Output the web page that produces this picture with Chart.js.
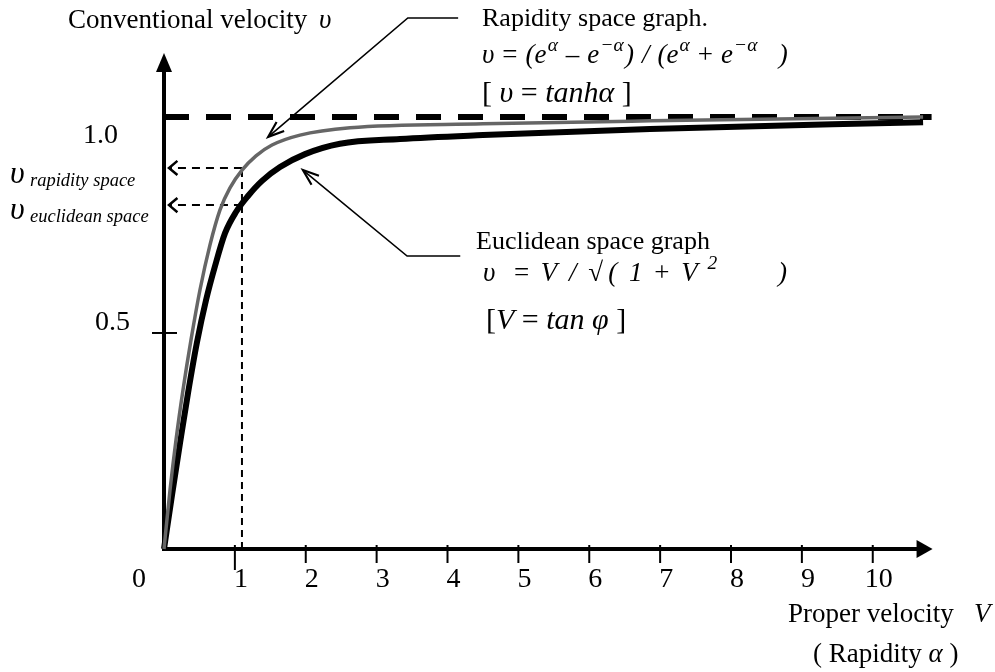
<!DOCTYPE html>
<html>
<head>
<meta charset="utf-8">
<script src="https://cdn.jsdelivr.net/npm/chart.js@4.4.1/dist/chart.umd.min.js"></script>
<style>
  html, body { margin: 0; padding: 0; background: #fff; }
  canvas { display: block; }
</style>
</head>
<body>
<canvas id="chart" width="995" height="672"></canvas>
<script>
// Rapidity space graph (grey curve)
const rapidityX = [0, 0.085, 0.169, 0.268, 0.381, 0.508, 0.649, 0.79, 0.931, 1.101, 1.298, 1.524, 1.919, 2.625, 4.5, 6.86, 10.71];
const rapidityY = [0, 0.137, 0.252, 0.368, 0.484, 0.6, 0.704, 0.785, 0.836, 0.877, 0.91, 0.935, 0.958, 0.975, 0.984, 0.991, 1.0];

// Euclidean space graph (black curve)
const euclidX = [0, 0.113, 0.226, 0.339, 0.466, 0.593, 0.72, 0.861, 1.016, 1.185, 1.383, 1.637, 1.99, 2.483, 3.33, 4.501, 6.858, 10.71];
const euclidY = [0, 0.125, 0.245, 0.361, 0.479, 0.576, 0.655, 0.731, 0.78, 0.817, 0.852, 0.884, 0.914, 0.938, 0.949, 0.958, 0.972, 0.988];

// limit v = 1 and the guide at V = 1.1
const limitY = 1.0;
const limitEndX = 10.83;
const guideX = 1.1;
const guideRapidityY = 0.882;
const guideEuclidY = 0.796;

// axis ticks
const xTicks = [1, 2, 3, 4, 5, 6, 7, 8, 9, 10];
const xTickLabels = ['1', '2', '3', '4', '5', '6', '7', '8', '9', '10'];
const yTicks = [0.5, 1.0];
const yTickLabels = ['0.5', '1.0'];

const FONT = '"Liberation Serif", "Times New Roman", serif';

function pts(xs, ys) {
    return xs.map((x, i) => ({ x: x, y: ys[i] }));
}

// text made of pieces: n = normal, i = italic, sup = superscript
// a third entry puts the piece at that x; gap is extra room after each piece
function drawRich(ctx, x, y, parts, size, gap) {
    gap = gap || 0;
    parts.forEach(([txt, kind, at]) => {
        let fs = size, dy = 0, style = '';
        if (kind === 'i') style = 'italic ';
        if (kind === 'sup') { style = 'italic '; fs = size * 0.72; dy = -size * 0.45; }
        if (at !== undefined) x = at;
        ctx.font = style + fs + 'px ' + FONT;
        ctx.fillText(txt, x, y + dy);
        x += ctx.measureText(txt).width + gap;
    });
}

function openHead(ctx, fx, fy, tx, ty, len, spread) {
    const a = Math.atan2(ty - fy, tx - fx);
    ctx.beginPath();
    ctx.moveTo(tx - len * Math.cos(a - spread), ty - len * Math.sin(a - spread));
    ctx.lineTo(tx, ty);
    ctx.lineTo(tx - len * Math.cos(a + spread), ty - len * Math.sin(a + spread));
    ctx.stroke();
}

const axesPlugin = {
    id: 'axes',
    beforeDatasetsDraw(chart) {
        const ctx = chart.ctx;
        const xs = chart.scales.x, ys = chart.scales.y;
        const x0 = xs.getPixelForValue(0), y0 = ys.getPixelForValue(0);
        const top = chart.chartArea.top, right = xs.getPixelForValue(limitEndX) + 1;
        ctx.save();
        ctx.strokeStyle = '#000';
        ctx.fillStyle = '#000';
        ctx.lineWidth = 4;
        ctx.lineCap = 'butt';
        // y axis with arrow
        ctx.beginPath();
        ctx.moveTo(x0, y0 + 2);
        ctx.lineTo(x0, top + 15);
        ctx.stroke();
        ctx.beginPath();
        ctx.moveTo(x0, top);
        ctx.lineTo(x0 - 8, top + 19);
        ctx.lineTo(x0 + 8, top + 19);
        ctx.closePath();
        ctx.fill();
        // x axis with arrow
        ctx.beginPath();
        ctx.moveTo(x0 - 2, y0);
        ctx.lineTo(right - 12, y0);
        ctx.stroke();
        ctx.beginPath();
        ctx.moveTo(right, y0);
        ctx.lineTo(right - 16, y0 - 9);
        ctx.lineTo(right - 16, y0 + 9);
        ctx.closePath();
        ctx.fill();
        // x ticks
        ctx.lineWidth = 2;
        xTicks.forEach((v, i) => {
            const px = xs.getPixelForValue(v);
            ctx.beginPath();
            ctx.moveTo(px, y0 - 4);
            ctx.lineTo(px, y0 + (i === 0 ? 21 : 14));
            ctx.stroke();
        });
        // y tick at 0.5
        const p5 = ys.getPixelForValue(yTicks[0]);
        ctx.beginPath();
        ctx.moveTo(x0 - 12, p5);
        ctx.lineTo(x0 + 13, p5);
        ctx.stroke();
        ctx.restore();
    },
    afterDatasetsDraw(chart) {
        const ctx = chart.ctx;
        const xs = chart.scales.x, ys = chart.scales.y;
        const P = (x, y) => [xs.getPixelForValue(x), ys.getPixelForValue(y)];
        const x0 = xs.getPixelForValue(0), y0 = ys.getPixelForValue(0);
        ctx.save();
        ctx.fillStyle = '#000';
        ctx.strokeStyle = '#000';
        ctx.textBaseline = 'alphabetic';

        // tick labels
        ctx.font = '28px ' + FONT;
        ctx.textAlign = 'center';
        ctx.fillText('0', x0 - 25, y0 + 38);
        xTicks.forEach((v, i) => {
            ctx.fillText(xTickLabels[i], xs.getPixelForValue(v) + 6, y0 + 38);
        });
        ctx.textAlign = 'right';
        ctx.fillText(yTickLabels[0], x0 - 34, ys.getPixelForValue(yTicks[0]) - 3);
        ctx.fillText(yTickLabels[1], x0 - 46, ys.getPixelForValue(yTicks[1]) + 26);
        ctx.textAlign = 'left';

        // arrowheads on the dashed guides
        ctx.lineWidth = 2.5;
        [guideRapidityY, guideEuclidY].forEach(v => {
            const [tx, ty] = P(0, v);
            openHead(ctx, tx + 20, ty, tx + 5, ty, 11, 0.7);
        });

        // pointers to the two curves
        const leaders = [
            [[4.15, 1.229], [3.44, 1.229], [1.47, 0.954]],
            [[4.18, 0.678], [3.43, 0.678], [1.96, 0.877]]
        ];
        leaders.forEach(l => {
            const a = P(...l[0]), b = P(...l[1]), c = P(...l[2]);
            ctx.lineWidth = 1.6;
            ctx.beginPath();
            ctx.moveTo(a[0], a[1]);
            ctx.lineTo(b[0], b[1]);
            ctx.lineTo(c[0], c[1]);
            ctx.stroke();
            ctx.lineWidth = 2.2;
            openHead(ctx, b[0], b[1], c[0], c[1], 17, 0.35);
        });

        // axis titles
        drawRich(ctx, 68, 28, [['Conventional velocity', 'n'], ['υ', 'i', 319]], 27);
        drawRich(ctx, 788, 622, [['Proper velocity', 'n'], ['V', 'i', 974]], 27);
        drawRich(ctx, 813, 662, [['( Rapidity ', 'n'], ['α', 'i'], [' )', 'n']], 27);

        // guide labels
        drawRich(ctx, 10, 183, [['υ', 'i']], 32);
        drawRich(ctx, 30, 186, [['rapidity space', 'i']], 18.5);
        drawRich(ctx, 10, 219, [['υ', 'i']], 32);
        drawRich(ctx, 30, 222, [['euclidean space', 'i']], 18.5);

        // curve notes
        drawRich(ctx, 482, 26, [['Rapidity space graph.', 'n']], 26);
        drawRich(ctx, 482, 63, [['υ', 'i'], [' = ', 'n'], ['(e', 'i'], ['α', 'sup'], [' – ', 'n'], ['e', 'i'],
            ['−α', 'sup'], [')', 'i'], [' / ', 'i'], ['(e', 'i'], ['α', 'sup'], [' + ', 'n'], ['e', 'i'],
            ['−α', 'sup'], ['   )', 'i']], 27, 1.2);
        drawRich(ctx, 482, 102, [['[ ', 'n'], ['υ', 'i'], [' = ', 'n'], ['tanh', 'i'], ['α', 'i'], [' ]', 'n']], 30);

        drawRich(ctx, 476, 249, [['Euclidean space graph', 'n']], 26);
        drawRich(ctx, 483, 281, [['υ', 'i'], ['  = ', 'n'], ['V', 'i'], [' / ', 'i'], ['√', 'n'], ['( ', 'i'],
            ['1', 'i'], [' + ', 'n'], ['V', 'i'], [' 2', 'sup'], [')', 'i', 778]], 27, 5);
        drawRich(ctx, 486, 329, [['[', 'n'], ['V', 'i'], [' = ', 'n'], ['tan ', 'i'], ['φ', 'i'], [' ]', 'n']], 30);
        ctx.restore();
    }
};

const common = { showLine: true, pointRadius: 0, pointHoverRadius: 0, fill: false, clip: false, borderCapStyle: 'butt' };

new Chart(document.getElementById('chart'), {
    type: 'scatter',
    data: {
        datasets: [
            Object.assign({}, common, {
                label: 'Rapidity space graph',
                data: pts(rapidityX, rapidityY),
                borderColor: '#666666',
                borderWidth: 3.5,
                cubicInterpolationMode: 'monotone',
                order: 1
            }),
            Object.assign({}, common, {
                label: 'Euclidean space graph',
                data: pts(euclidX, euclidY),
                borderColor: '#000000',
                borderWidth: 6,
                cubicInterpolationMode: 'monotone',
                order: 2
            }),
            Object.assign({}, common, {
                label: 'v = 1',
                data: [{ x: 0, y: limitY }, { x: limitEndX, y: limitY }],
                borderColor: '#000000',
                borderWidth: 6,
                borderDash: [25, 17],
                order: 3
            }),
            Object.assign({}, common, {
                label: 'guide',
                data: [{ x: guideX, y: 0 }, { x: guideX, y: guideRapidityY }],
                borderColor: '#000000',
                borderWidth: 2,
                borderDash: [7, 5],
                order: 4
            }),
            Object.assign({}, common, {
                label: 'guide rapidity',
                data: [{ x: guideX, y: guideRapidityY }, { x: 0.08, y: guideRapidityY }],
                borderColor: '#000000',
                borderWidth: 2,
                borderDash: [8, 6],
                order: 4
            }),
            Object.assign({}, common, {
                label: 'guide euclidean',
                data: [{ x: guideX, y: guideEuclidY }, { x: 0.08, y: guideEuclidY }],
                borderColor: '#000000',
                borderWidth: 2,
                borderDash: [8, 6],
                order: 4
            })
        ]
    },
    options: {
        responsive: false,
        animation: false,
        events: [],
        layout: { padding: { left: 164, right: 62, top: 53, bottom: 123 } },
        scales: {
            x: { type: 'linear', min: 0, max: 10.85, display: false },
            y: { type: 'linear', min: 0, max: 1.148, display: false }
        },
        plugins: { legend: { display: false }, tooltip: { enabled: false } }
    },
    plugins: [axesPlugin]
});
</script>
</body>
</html>
